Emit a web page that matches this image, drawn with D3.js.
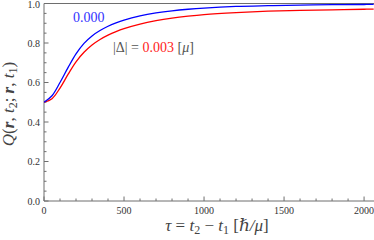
<!DOCTYPE html>
<html>
<head>
<meta charset="utf-8">
<script src="https://cdn.jsdelivr.net/npm/d3@7"></script>
<style>
  body { margin: 0; background: #fff; }
  svg text { font-family: 'Liberation Serif', 'Times New Roman', 'DejaVu Serif', serif; }
</style>
</head>
<body>
<div id="chart"></div>
<script>
// time axis (hbar/mu) and the two curves
var tau = [0, 50, 100, 150, 200, 250, 300, 350, 400, 450, 500, 600, 700, 800, 900, 1000, 1200, 1400, 1600, 1800, 2000, 2060];
var qZero = [0.5, 0.533, 0.600, 0.675, 0.745, 0.798, 0.836, 0.863, 0.885, 0.902, 0.916, 0.937, 0.952, 0.963, 0.971, 0.977, 0.985, 0.989, 0.992, 0.994, 0.995, 0.9955];
var qDelta = [0.5, 0.518, 0.572, 0.641, 0.705, 0.753, 0.79, 0.818, 0.84, 0.858, 0.873, 0.896, 0.913, 0.926, 0.936, 0.944, 0.954, 0.961, 0.965, 0.968, 0.971, 0.972];
var xTicks = [0, 500, 1000, 1500, 2000];
var yTicks = [0.0, 0.2, 0.4, 0.6, 0.8, 1.0];

var W = 374, H = 240;
var svg = d3.select("#chart").append("svg")
    .attr("width", W)
    .attr("height", H);

var x = d3.scaleLinear().domain([0, 2062]).range([44, 374]);
var y = d3.scaleLinear().domain([0, 1]).range([201, 3.5]);
var axisCol = "#6e6e6e";

// bottom axis, ticks pointing into the plot
var xa = svg.append("g").attr("transform", "translate(0," + y(0) + ")");
xa.append("line").attr("x1", x(0)).attr("x2", W).attr("stroke", axisCol);
xa.selectAll(".minor").data(d3.range(0, 2001, 100)).enter().append("line")
    .attr("x1", function(d) { return x(d); }).attr("x2", function(d) { return x(d); })
    .attr("y1", 0).attr("y2", function(d) { return d % 500 == 0 ? -4.5 : -2.5; })
    .attr("stroke", axisCol);
xa.selectAll(".lab").data(xTicks).enter().append("text")
    .attr("x", function(d) { return x(d); }).attr("y", 13)
    .attr("text-anchor", "middle").attr("font-size", "10px").attr("fill", "#333")
    .text(function(d) { return d; });

// left axis
var ya = svg.append("g").attr("transform", "translate(" + x(0) + ",0)");
ya.append("line").attr("y1", y(0)).attr("y2", y(1)).attr("stroke", axisCol);
ya.selectAll(".minor").data(d3.range(0, 21)).enter().append("line")
    .attr("y1", function(d) { return y(d / 20); }).attr("y2", function(d) { return y(d / 20); })
    .attr("x1", 0).attr("x2", function(d) { return d % 4 == 0 ? 4.5 : 2.5; })
    .attr("stroke", axisCol);
ya.selectAll(".lab").data(yTicks).enter().append("text")
    .attr("x", -4).attr("y", function(d) { return Math.max(y(d) + 3.5, 7.5); })
    .attr("text-anchor", "end").attr("font-size", "10px").attr("fill", "#333")
    .text(function(d) { return d.toFixed(1); });

// top frame line
svg.append("line").attr("x1", x(0)).attr("x2", W)
    .attr("y1", y(1)).attr("y2", y(1)).attr("stroke", axisCol);

var line = d3.line().curve(d3.curveCatmullRom);
function pts(vals) { return tau.map(function(t, i) { return [x(t), y(vals[i])]; }); }

svg.append("clipPath").attr("id", "clip").append("rect")
    .attr("x", x(0)).attr("y", 0).attr("width", W - x(0)).attr("height", y(0));

svg.append("path").attr("d", line(pts(qDelta))).attr("fill", "none")
    .attr("stroke", "#ff0000").attr("stroke-width", 1.3).attr("clip-path", "url(#clip)");
svg.append("path").attr("d", line(pts(qZero))).attr("fill", "none")
    .attr("stroke", "#0000ff").attr("stroke-width", 1.3).attr("clip-path", "url(#clip)");

// curve labels
svg.append("text").attr("x", 73).attr("y", 22)
    .attr("font-size", "14px").attr("fill", "#3333ff").text("0.000");

var lab = svg.append("text").attr("x", 113).attr("y", 52)
    .attr("font-size", "14px").attr("fill", "#555");
lab.append("tspan").text("|Δ| = ");
lab.append("tspan").attr("fill", "#ff2222").text("0.003");
lab.append("tspan").text(" [");
lab.append("tspan").attr("font-style", "italic").text("μ");
lab.append("tspan").text("]");

// axis titles
var xt = svg.append("text").attr("x", 217).attr("y", 231)
    .attr("text-anchor", "middle").attr("font-size", "17px").attr("fill", "#444");
xt.append("tspan").attr("font-style", "italic").text("τ");
xt.append("tspan").text(" = ");
xt.append("tspan").attr("font-style", "italic").text("t");
xt.append("tspan").attr("font-size", "12px").attr("dy", 3).text("2");
xt.append("tspan").attr("dy", -3).text(" − ");
xt.append("tspan").attr("font-style", "italic").text("t");
xt.append("tspan").attr("font-size", "12px").attr("dy", 3).text("1");
xt.append("tspan").attr("dy", -3).text("  [");
xt.append("tspan").attr("font-style", "italic").text("ℏ/μ");
xt.append("tspan").text("]");

var yt = svg.append("text").attr("transform", "translate(14,104) rotate(-90)")
    .attr("text-anchor", "middle").attr("font-size", "17px").attr("fill", "#444");
yt.append("tspan").attr("font-style", "italic").text("Q");
yt.append("tspan").text("(");
yt.append("tspan").attr("font-style", "italic").attr("font-weight", "bold").text("r");
yt.append("tspan").text(", ");
yt.append("tspan").attr("font-style", "italic").text("t");
yt.append("tspan").attr("font-size", "12px").attr("dy", 3).text("2");
yt.append("tspan").attr("dy", -3).text("; ");
yt.append("tspan").attr("font-style", "italic").attr("font-weight", "bold").text("r");
yt.append("tspan").text(", ");
yt.append("tspan").attr("font-style", "italic").text("t");
yt.append("tspan").attr("font-size", "12px").attr("dy", 3).text("1");
yt.append("tspan").attr("dy", -3).text(")");
</script>
</body>
</html>
